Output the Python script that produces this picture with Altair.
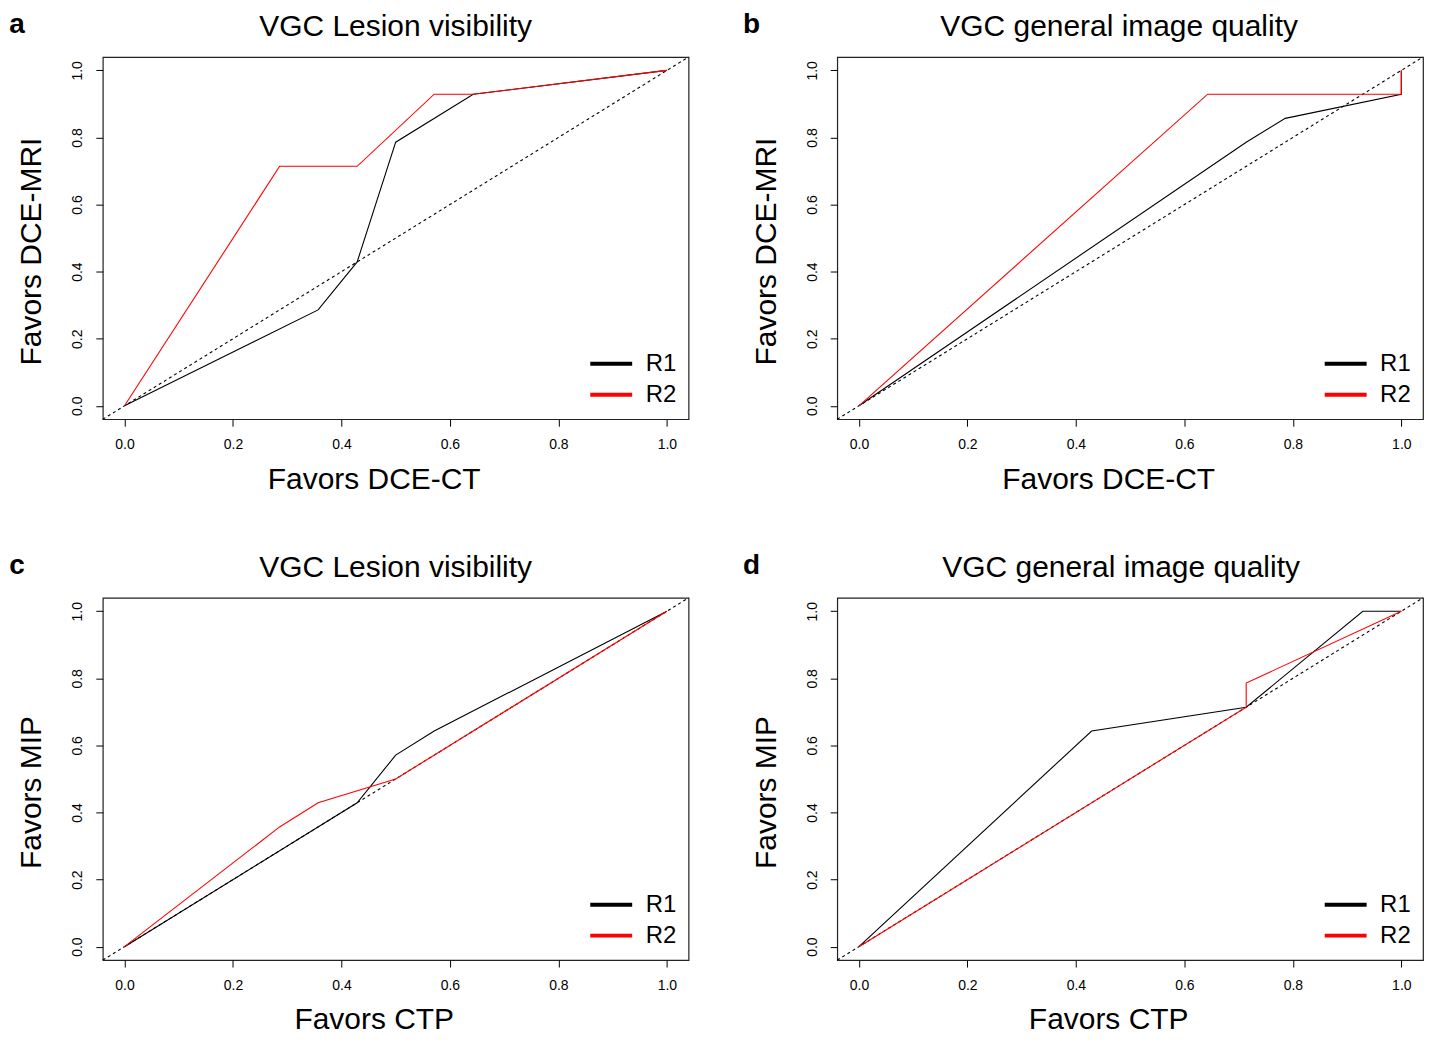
import altair as alt
import pandas as pd

letters = ["a", "b", "c", "d"]
titles = ["VGC Lesion visibility", "VGC general image quality",
          "VGC Lesion visibility", "VGC general image quality"]
x_titles = ["Favors DCE-CT", "Favors DCE-CT", "Favors CTP", "Favors CTP"]
y_titles = ["Favors DCE-MRI", "Favors DCE-MRI", "Favors MIP", "Favors MIP"]
title_dx = [0, -11, 0, -9]

readers = ["R1", "R2"]
reader_colors = ["#000000", "#ff0000"]
ticks = [0.0, 0.2, 0.4, 0.6, 0.8, 1.0]
diag = [-0.04, 1.04]

# panel a
a_r1_x = [0, 0.357, 0.429, 0.5, 0.643, 1.0]
a_r1_y = [0, 0.286, 0.429, 0.786, 0.929, 1.0]
a_r2_x = [0, 0.286, 0.429, 0.571, 0.643, 1.0]
a_r2_y = [0, 0.714, 0.714, 0.929, 0.929, 1.0]
# panel b
b_r1_x = [0, 0.714, 0.786, 1.0, 1.0]
b_r1_y = [0, 0.786, 0.857, 0.929, 1.0]
b_r2_x = [0, 0.643, 1.0, 1.0]
b_r2_y = [0, 0.929, 0.929, 1.0]
# panel c
c_r1_x = [0, 0.429, 0.5, 0.571, 1.0]
c_r1_y = [0, 0.429, 0.571, 0.643, 1.0]
c_r2_x = [0, 0.286, 0.357, 0.5, 1.0]
c_r2_y = [0, 0.357, 0.429, 0.5, 1.0]
# panel d
d_r1_x = [0, 0.429, 0.714, 0.929, 1.0]
d_r1_y = [0, 0.643, 0.714, 1.0, 1.0]
d_r2_x = [0, 0.714, 0.714, 1.0]
d_r2_y = [0, 0.714, 0.786, 1.0]

series = [
    ((a_r1_x, a_r1_y), (a_r2_x, a_r2_y)),
    ((b_r1_x, b_r1_y), (b_r2_x, b_r2_y)),
    ((c_r1_x, c_r1_y), (c_r2_x, c_r2_y)),
    ((d_r1_x, d_r1_y), (d_r2_x, d_r2_y)),
]

FONT = "Liberation Sans"
W, H = 587, 363


def make_panel(i):
    rows = []
    for reader, (xs, ys) in zip(readers, series[i]):
        for k, (xv, yv) in enumerate(zip(xs, ys)):
            rows.append({"reader": reader, "x": xv, "y": yv, "idx": k})
    df = pd.DataFrame(rows)

    xenc = alt.X("x:Q",
                 scale=alt.Scale(domain=diag, nice=False, zero=False),
                 axis=alt.Axis(values=ticks, format=".1f", title=x_titles[i],
                               labelPadding=11, titlePadding=13,
                               titleX=W / 2 - 22))
    yenc = alt.Y("y:Q",
                 scale=alt.Scale(domain=diag, nice=False, zero=False),
                 axis=alt.Axis(values=ticks, format=".1f", title=y_titles[i],
                               labelAngle=270, labelAlign="center",
                               labelBaseline="bottom", labelPadding=11,
                               titlePadding=24, titleY=H / 2 + 13))

    diag_df = pd.DataFrame({"x": diag, "y": diag})
    diag_line = alt.Chart(diag_df).mark_line(
        color="#000000", strokeWidth=1.1, strokeDash=[3, 3]
    ).encode(x=xenc, y=yenc)

    lines = alt.Chart(df).mark_line(strokeWidth=1.1).encode(
        x=xenc, y=yenc,
        color=alt.Color("reader:N",
                        scale=alt.Scale(domain=readers, range=reader_colors),
                        title=None,
                        legend=alt.Legend(orient="bottom-right",
                                          symbolType="M-2,0L2,0",
                                          symbolStrokeWidth=4,
                                          symbolSize=441,
                                          labelFontSize=24,
                                          labelFont=FONT,
                                          labelColor="#000000",
                                          labelOffset=22,
                                          rowPadding=6,
                                          padding=0,
                                          offset=12)),
        order="idx:Q",
    )

    letter = alt.Chart(pd.DataFrame({"t": [letters[i]]})).mark_text(
        fontSize=28, fontWeight="bold", font=FONT, align="center",
        baseline="alphabetic", color="#000000"
    ).encode(x=alt.value(-86), y=alt.value(-24), text="t:N")

    title = alt.Chart(pd.DataFrame({"t": [titles[i]]})).mark_text(
        fontSize=30, font=FONT, align="center", baseline="alphabetic",
        color="#000000"
    ).encode(x=alt.value(W / 2 + title_dx[i]), y=alt.value(-21), text="t:N")

    return alt.layer(diag_line, lines, letter, title).properties(
        width=W, height=H,
    )


chart = alt.concat(
    *[make_panel(i) for i in range(4)], columns=2,
    spacing={"row": 56, "column": 50}
).resolve_scale(color="independent").properties(
    padding={"left": 0, "top": 1, "right": 0, "bottom": 0}
).configure(
    font=FONT
).configure_view(
    stroke="#222222", strokeWidth=1.2
).configure_axis(
    domain=False, grid=False, tickColor="#000000", tickSize=7, tickWidth=1,
    labelFontSize=14, labelColor="#000000", labelFont=FONT,
    titleFontSize=30, titleFontWeight="normal", titleColor="#000000",
    titleFont=FONT,
)

chart.save("out.html", embed_options={"renderer": "svg", "actions": False})
